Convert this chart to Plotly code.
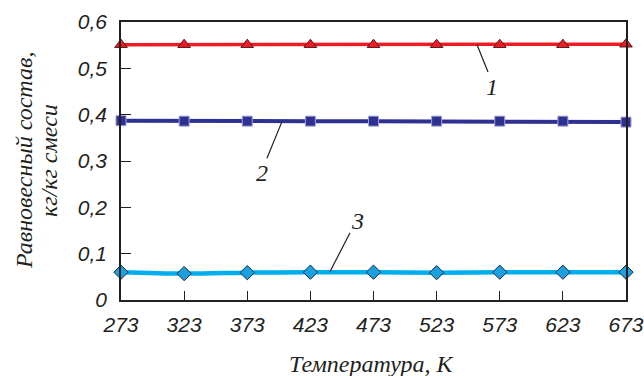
import plotly.graph_objects as go

temps = [273, 323, 373, 423, 473, 523, 573, 623, 673]
series1 = [0.551, 0.551, 0.551, 0.551, 0.551, 0.551, 0.551, 0.551, 0.552]
series2 = [0.387, 0.386, 0.386, 0.386, 0.386, 0.386, 0.386, 0.386, 0.384]
series3 = [0.060, 0.057, 0.059, 0.060, 0.060, 0.059, 0.060, 0.060, 0.060]
y_ticks = [0, 0.1, 0.2, 0.3, 0.4, 0.5, 0.6]
y_tick_labels = ["0", "0,1", "0,2", "0,3", "0,4", "0,5", "0,6"]
labels = ["1", "2", "3"]
x_title = "Температура, К"
y_title_lines = ["Равновесный состав,", "кг/кг смеси"]

W, H = 644, 376
ML, MR, MT, MB = 121, 18, 22, 76
PW, PH = W - ML - MR, H - MT - MB

def px2paper(px, py):
    return (px - ML) / PW, (H - MB - py) / PH

fig = go.Figure()
fig.add_trace(go.Scatter(x=temps, y=series1, mode="lines+markers",
                         line=dict(color="#ed1c24", width=3.5),
                         marker=dict(symbol="triangle-up", size=11, color="#ed1c24",
                                     line=dict(color="#5a1a1a", width=1)),
                         cliponaxis=False))
fig.add_trace(go.Scatter(x=temps, y=series2, mode="lines+markers",
                         line=dict(color="#2e3192", width=4),
                         marker=dict(symbol="square", size=10, color="#2e3192",
                                     line=dict(color="#9fa3d6", width=1)),
                         cliponaxis=False))
fig.add_trace(go.Scatter(x=temps, y=series3, mode="lines+markers",
                         line=dict(color="#00aeef", width=4.5, shape="spline"),
                         marker=dict(symbol="diamond", size=11, color="#1ba1e2",
                                     line=dict(color="#1a2a3a", width=1)),
                         cliponaxis=False))

# leader lines
leaders = [((555, 0.551), (563.7, 0.492)),
           ((400.5, 0.385), (388.6, 0.306)),
           ((438.5, 0.061), (454.4, 0.145))]
for (x0, y0), (x1, y1) in leaders:
    fig.add_shape(type="line", x0=x0, y0=y0, x1=x1, y1=y1, xref="x", yref="y",
                  line=dict(color="#231f20", width=1.2))

label_pos = [(567, 0.460), (384.7, 0.274), (460, 0.170)]
for t, (lx, ly) in zip(labels, label_pos):
    fig.add_annotation(x=lx, y=ly, text=t, showarrow=False,
                       font=dict(family="Liberation Serif", size=24, color="#231f20", style="italic"),
                       xref="x", yref="y")

title_font = dict(family="Liberation Serif", size=24, style="italic", color="#231f20")
tx, ty = px2paper(372, 364)
fig.add_annotation(x=tx, y=ty, xref="paper", yref="paper", text=x_title,
                   showarrow=False, font=title_font, xanchor="center", yanchor="middle")
for txt, cx in zip(y_title_lines, [24, 49]):
    ax_, ay_ = px2paper(cx, 161)
    fig.add_annotation(x=ax_, y=ay_, xref="paper", yref="paper", text=txt, textangle=-90,
                       showarrow=False, font=title_font, xanchor="center", yanchor="middle")

fig.update_layout(
    width=W, height=H,
    margin=dict(l=ML, r=MR, t=MT, b=MB, autoexpand=False),
    paper_bgcolor="white", plot_bgcolor="white",
    showlegend=False,
    separators=", ",
    font=dict(family="Liberation Sans", color="#231f20"),
)
fig.update_xaxes(range=[273, 673], tickvals=temps, ticktext=[str(t) for t in temps],
                 ticks="inside", ticklen=9, tickwidth=1.2, tickcolor="#231f20",
                 showline=True, linecolor="#231f20", linewidth=1.5, mirror=True,
                 showgrid=False, zeroline=False, automargin=False, ticklabelstandoff=5,
                 tickfont=dict(family="Liberation Sans", size=21, style="italic", color="#231f20"))
fig.update_yaxes(range=[0, 0.6], tickvals=y_ticks, ticktext=y_tick_labels,
                 ticks="inside", ticklen=10, tickwidth=1.2, tickcolor="#231f20",
                 showline=True, linecolor="#231f20", linewidth=1.5, mirror=True,
                 showgrid=False, zeroline=False, automargin=False, ticklabelstandoff=8,
                 tickfont=dict(family="Liberation Sans", size=21, style="italic", color="#231f20"))

fig.write_html("out.html", config={"displayModeBar": False},
               post_script="document.body.style.margin='0';document.body.style.overflow='hidden';document.documentElement.style.overflow='hidden';")
